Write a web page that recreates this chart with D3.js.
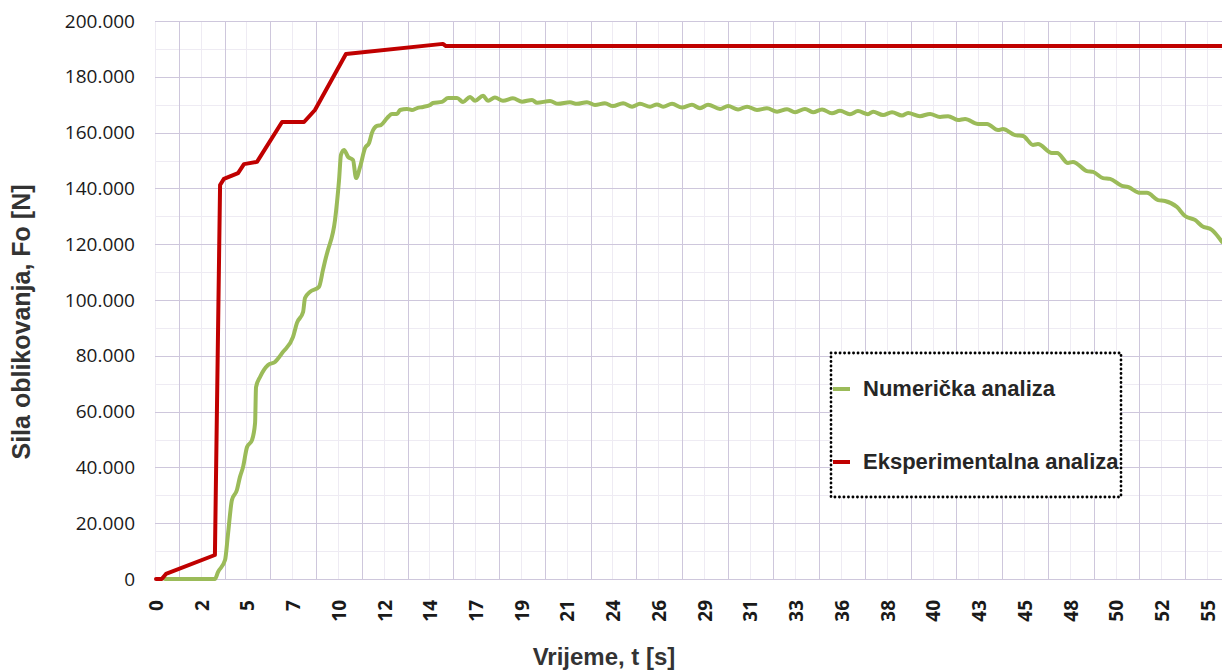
<!DOCTYPE html>
<html>
<head>
<meta charset="utf-8">
<script src="https://cdnjs.cloudflare.com/ajax/libs/d3/7.8.5/d3.min.js"></script>
<style>
body { margin: 0; background: #fff; }
svg { display: block; }
.grid line { shape-rendering: crispEdges; }
</style>
</head>
<body>
<div id="chart"></div>
<script>
// x axis labels (category-style time labels, evenly spaced 0..55 s)
const tickLabels = ["0", "2", "5", "7", "10", "12", "14", "17", "19", "21", "24", "26",
    "29", "31", "33", "36", "38", "40", "43", "45", "48", "50", "52", "55"];

// Numerička analiza
const numTime = [0.47, 3.08, 3.24, 3.61, 3.76, 3.97, 4.23, 4.39, 4.55, 4.76, 5.02, 5.18, 5.23, 5.44,
    5.86, 6.22, 6.64, 7.16, 7.37, 7.69, 7.79, 8.05, 8.52, 8.73, 8.89, 8.99, 9.36, 9.57, 9.67, 9.83,
    10.04, 10.30, 10.46, 10.67, 10.93, 11.14, 11.29, 11.55, 11.76, 12.08, 12.34, 12.60, 12.76, 13.12,
    13.38, 13.65, 13.96, 14.33, 14.48, 14.95, 15.27, 15.74, 16.05, 16.42, 16.68, 17.10, 17.36, 17.72,
    18.14, 18.66, 19.14, 19.66, 19.92, 20.60, 21.02, 21.64, 22.01, 22.53, 22.95, 23.47, 23.89, 24.42,
    24.89, 25.30, 25.83, 26.19, 26.51, 26.98, 27.50, 28.02, 28.44, 28.86, 29.49, 29.91, 30.43, 30.90,
    31.42, 31.94, 32.47, 32.99, 33.41, 33.93, 34.35, 34.82, 35.34, 35.76, 36.28, 36.70, 37.22, 37.49,
    38.01, 38.48, 39.00, 39.32, 39.94, 40.47, 40.99, 41.41, 41.93, 42.30, 42.98, 43.45, 44.02, 44.28,
    44.91, 45.33, 45.85, 46.11, 46.84, 47.11, 47.68, 47.94, 48.67, 48.99, 49.51, 49.88, 50.50, 50.82,
    51.45, 51.81, 52.39, 52.75, 53.38, 53.80, 54.32, 54.69, 55.21, 55.73];
const numForce = [0, 0, 2500, 6800, 15800, 28300, 31900, 36600, 40100, 47300, 49800, 55900, 68800, 72400,
    76700, 77800, 81400, 86700, 91800, 95700, 100700, 102900, 104700, 110800, 115400, 117900, 128700, 143000, 152000, 153800,
    151300, 150200, 143700, 147700, 154500, 156300, 159900, 162400, 162700, 165200, 166700, 166700, 168100, 168500,
    168100, 168800, 169200, 169900, 170600, 171000, 172400, 172400, 171000, 172800, 171400, 173200, 171400, 172600,
    171400, 172300, 171100, 171700, 170700, 171300, 170300, 170900, 170300, 170900, 169900, 170500, 169500, 170500,
    169300, 170300, 169300, 170100, 169300, 170300, 169000, 170000, 168700, 170000, 168500, 169500, 168300, 169300,
    168100, 168700, 167500, 168400, 167300, 168500, 167300, 168300, 166900, 167800, 166600, 167700, 166600, 167500,
    166300, 167300, 166100, 167000, 165900, 166700, 165600, 165900, 164500, 164900, 163100, 163100, 160900, 161300,
    159100, 158800, 155600, 155900, 152700, 152700, 149100, 149500, 146200, 145900, 143700, 143400, 140900, 140500,
    138400, 138400, 135800, 135500, 133300, 130100, 128700, 126500, 125100, 120800];

// Eksperimentalna analiza
const expTime = [0, 0.30, 0.52, 3.08, 3.35, 3.55, 4.29, 4.60, 5.28, 6.59, 7.74, 8.31, 9.93, 15.00, 15.16, 56.00];
const expForce = [0, 0, 1800, 8600, 141200, 143400, 145500, 148700, 149500, 163800, 163800, 168100, 188200, 191800, 191000, 191000];

const seriesNames = ["Numerička analiza", "Eksperimentalna analiza"];
const seriesColors = ["#9bbb59", "#c00000"];

var margin = {top: 21, left: 156},
    width = 1052,            // t = 0 .. 55 s
    plotRight = 1222 - 156 + 10,
    height = 558;

var svg = d3.select("#chart")
    .append("svg")
    .attr("width", 1222)
    .attr("height", 671);

var g = svg.append("g")
    .attr("transform", `translate(${margin.left}, ${margin.top})`);

var x = d3.scaleLinear().domain([0, 55]).range([0, width]);
var y = d3.scaleLinear().domain([0, 200000]).range([height, 0]);

var step = 55 / (tickLabels.length - 1);
var labelTicks = tickLabels.map((d, i) => i * step);
var midTicks = tickLabels.map((d, i) => (i + 0.5) * step);

// minor grid
g.append("g").attr("class", "grid")
    .selectAll("line").data(labelTicks).enter().append("line")
    .attr("x1", d => Math.round(x(d)) - 0.5).attr("x2", d => Math.round(x(d)) - 0.5)
    .attr("y1", 0).attr("y2", height)
    .attr("stroke", "#eeebf3");
g.append("g").attr("class", "grid")
    .selectAll("line").data(d3.range(10000, 200000, 20000)).enter().append("line")
    .attr("x1", -1).attr("x2", plotRight)
    .attr("y1", d => Math.round(y(d)) + 0.5).attr("y2", d => Math.round(y(d)) + 0.5)
    .attr("stroke", "#eeebf3");

// major grid
g.append("g").attr("class", "grid")
    .selectAll("line").data(midTicks).enter().append("line")
    .attr("x1", d => Math.round(x(d)) + 0.5).attr("x2", d => Math.round(x(d)) + 0.5)
    .attr("y1", 0).attr("y2", height)
    .attr("stroke", "#cec7dc");
g.append("g").attr("class", "grid")
    .selectAll("line").data(d3.range(0, 200001, 20000)).enter().append("line")
    .attr("x1", -1).attr("x2", plotRight)
    .attr("y1", d => Math.round(y(d)) + 0.5).attr("y2", d => Math.round(y(d)) + 0.5)
    .attr("stroke", "#cec7dc");

// y axis labels (European number format)
var euro = d3.formatLocale({decimal: ",", thousands: ".", grouping: [3], currency: ["", ""]});
var yAxis = g.append("g")
    .call(d3.axisLeft(y).tickValues(d3.range(0, 200001, 20000))
        .tickFormat(euro.format(",")).tickSize(0).tickPadding(21));
yAxis.select(".domain").remove();
yAxis.selectAll("text")
    .style("font-family", "'Open Sans'")
    .style("font-size", "19px")
    .attr("fill", "#1a1a1a");

// x axis labels, rotated
g.append("g")
    .selectAll("text").data(tickLabels).enter().append("text")
    .attr("transform", (d, i) => `translate(${x(labelTicks[i])}, ${600 - margin.top}) rotate(-90)`)
    .attr("dy", "0.36em")
    .attr("text-anchor", "end")
    .style("font-family", "'Open Sans'")
    .style("font-weight", "bold")
    .style("font-size", "19px")
    .attr("fill", "#1a1a1a")
    .text(d => d);

// series: numerical one is drawn smoothed, experimental one straight
var lineSmooth = d3.line().x(d => x(d[0])).y(d => y(d[1])).curve(d3.curveMonotoneX);
var lineStraight = d3.line().x(d => x(d[0])).y(d => y(d[1]));
var series = [d3.zip(numTime, numForce), d3.zip(expTime, expForce)];

g.selectAll("path.series").data(series).enter().append("path")
    .attr("class", "series")
    .attr("d", (d, i) => i === 0 ? lineSmooth(d) : lineStraight(d))
    .attr("fill", "none")
    .attr("stroke", (d, i) => seriesColors[i])
    .attr("stroke-width", 4)
    .attr("stroke-linejoin", "round")
    .attr("stroke-linecap", "round");

// axis titles
svg.append("text")
    .attr("x", 604).attr("y", 665)
    .attr("text-anchor", "middle")
    .style("font-family", "'Liberation Sans', Arial")
    .style("font-weight", "bold")
    .style("font-size", "24px")
    .attr("fill", "#333")
    .text("Vrijeme, t [s]");

svg.append("text")
    .attr("transform", "translate(30, 322) rotate(-90)")
    .attr("text-anchor", "middle")
    .style("font-family", "'Liberation Sans', Arial")
    .style("font-weight", "bold")
    .style("font-size", "25px")
    .attr("fill", "#333")
    .text("Sila oblikovanja, Fo [N]");

// legend
var legend = svg.append("g");
legend.append("rect")
    .attr("x", 831).attr("y", 353).attr("width", 290).attr("height", 144)
    .attr("fill", "#fff")
    .attr("stroke", "#000")
    .attr("stroke-width", 2.8)
    .attr("stroke-dasharray", "0.1 4.4")
    .attr("stroke-linecap", "round");

var items = legend.selectAll("g.item").data(seriesNames).enter().append("g")
    .attr("transform", (d, i) => `translate(833, ${389 + i * 73})`);
items.append("line")
    .attr("x1", 0).attr("x2", 17)
    .attr("stroke", (d, i) => seriesColors[i])
    .attr("stroke-width", 4);
items.append("text")
    .attr("x", 30).attr("y", 7)
    .style("font-family", "'Liberation Sans', Arial")
    .style("font-weight", "bold")
    .style("font-size", "22px")
    .attr("fill", "#262626")
    .text(d => d);
</script>
</body>
</html>
